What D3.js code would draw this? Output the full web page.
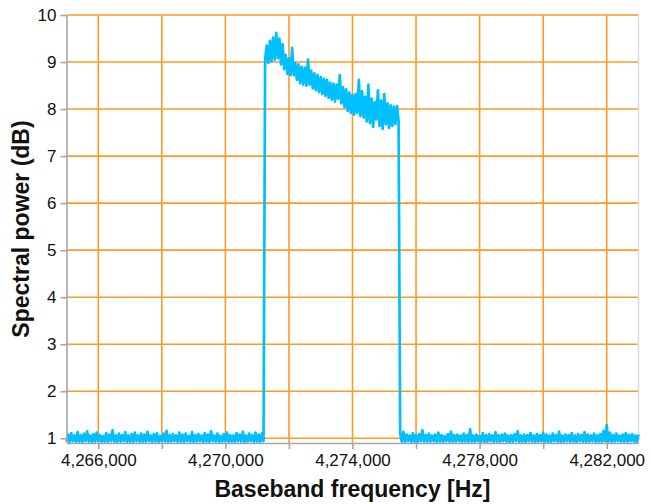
<!DOCTYPE html>
<html>
<head>
<meta charset="utf-8">
<script src="https://cdn.jsdelivr.net/npm/d3@7/dist/d3.min.js"></script>
<style>
  html, body { margin: 0; padding: 0; background: #fff; }
  svg { display: block; font-family: "Liberation Sans", Arial, Helvetica, sans-serif; }
</style>
</head>
<body>
<svg id="chart" width="650" height="504"></svg>
<script>
// Spectrum sampled every 50 Hz: noise floor below the band, the occupied band, noise floor above it
const sampleStepHz = 50;
const leftFloorStartHz = 4265000;
const leftFloor = [
  0.93,1.08,0.92,1.11,0.94,1.06,0.92,1.13,0.93,1.07,0.92,1.10,0.94,1.15,0.93,1.06,0.92,1.09,0.93,1.12,
  0.94,1.07,0.92,1.05,0.93,1.11,0.92,1.08,0.94,1.17,0.93,1.06,0.92,1.10,0.93,1.07,0.94,1.13,0.92,1.06,
  0.93,1.09,0.92,1.12,0.94,1.06,0.93,1.10,0.92,1.08,0.93,1.14,0.94,1.06,0.92,1.09,0.93,1.11,0.92,1.05,
  0.94,1.10,0.93,1.16,0.92,1.07,0.93,1.09,0.94,1.06,0.92,1.12,0.93,1.08,0.92,1.10,0.94,1.05,0.93,1.13,
  0.92,1.07,0.93,1.09,0.94,1.06,0.92,1.11,0.93,1.08,0.92,1.15,0.94,1.06,0.93,1.10,0.92,1.05,0.93,1.09,
  0.94,1.12,0.92,1.07,0.93,1.06,0.92,1.11,0.94,1.08,0.93,1.14,0.92,1.06,0.93,1.10,0.94,1.07,0.92,1.12,
  0.93,1.08,0.92,1.10,0.94
];
const bandStartHz = 4271250;
const bandPower = [
  9.05,9.35,8.98,9.45,9.02,9.52,9.05,9.62,9.08,9.50,8.95,9.38,8.85,9.15,8.75,9.08,8.72,9.30,8.72,8.98,
  8.62,8.95,8.55,8.90,8.52,8.88,8.50,9.05,8.52,8.82,8.44,8.76,8.40,8.72,8.36,8.68,8.32,8.64,8.28,8.62,
  8.24,8.56,8.20,8.54,8.16,8.52,8.22,8.72,8.12,8.46,8.04,8.42,7.96,8.35,7.92,8.30,7.88,8.32,7.92,8.62,
  7.85,8.38,7.82,8.26,7.74,8.52,7.70,8.22,7.62,8.15,7.78,8.40,7.64,8.18,7.58,8.32,7.68,8.12,7.60,8.08,
  7.64,8.05,7.68,8.06,7.76
];
const rightFloorStartHz = 4275500;
const rightFloor = [
  1.10,0.93,1.14,0.92,1.08,0.94,1.06,0.92,1.11,0.93,1.07,0.92,1.09,0.94,1.17,0.93,1.07,0.92,1.10,0.93,
  1.06,0.94,1.08,0.92,1.12,0.93,1.07,0.92,1.05,0.94,1.09,0.93,1.14,0.92,1.07,0.93,1.08,0.94,1.06,0.92,
  1.10,0.93,1.07,0.92,1.19,0.93,1.06,0.92,1.08,0.94,1.05,0.93,1.11,0.92,1.07,0.93,1.09,0.94,1.06,0.92,
  1.13,0.93,1.07,0.92,1.08,0.94,1.10,0.93,1.06,0.92,1.07,0.93,1.09,0.94,1.15,0.92,1.06,0.93,1.08,0.92,
  1.07,0.94,1.11,0.93,1.06,0.92,1.09,0.93,1.07,0.94,1.12,0.92,1.08,0.93,1.06,0.92,1.10,0.94,1.07,0.93,
  1.14,0.92,1.06,0.93,1.08,0.94,1.07,0.92,1.11,0.93,1.06,0.92,1.09,0.94,1.07,0.93,1.13,0.92,1.08,0.93,
  1.06,0.94,1.10,0.92,1.07,0.93,1.09,0.92,1.16,0.94,1.28,0.93,1.12,0.92,1.07,0.93,1.10,0.94,1.06,0.92,
  1.08,0.93,1.11,0.92,1.07,0.94,1.09,0.93,1.06,0.92,1.08
];

// Axis ticks
const xTicks = [4266000, 4268000, 4270000, 4272000, 4274000, 4276000, 4278000, 4280000, 4282000];
const xLabelled = [4266000, 4270000, 4274000, 4278000, 4282000];
const yTicks = [1, 2, 3, 4, 5, 6, 7, 8, 9, 10];
const xDomain = [4265000, 4283000];
const yDomain = [0.9, 10];

const xTitle = "Baseband frequency [Hz]";
const yTitle = "Spectral power (dB)";

// Build (frequency, power) points
function toPoints(startHz, values) {
  return values.map((v, i) => ({ f: startHz + i * sampleStepHz, p: v }));
}
const points = [].concat(
  toPoints(leftFloorStartHz, leftFloor),
  toPoints(bandStartHz, bandPower),
  toPoints(rightFloorStartHz, rightFloor)
);

const margin = { left: 66.5, right: 11.5, top: 15, bottom: 61 };
const W = 650, H = 504;
const svg = d3.select("#chart");

const x = d3.scaleLinear().domain(xDomain).range([margin.left, W - margin.right]);
const y = d3.scaleLinear().domain(yDomain).range([H - margin.bottom, margin.top]);

const gridColor = "#ff9a22";
const axisColor = "#a6a6a6";

// Grid
const grid = svg.append("g");
grid.selectAll("line.vx").data(xTicks).join("line")
  .attr("x1", d => x(d)).attr("x2", d => x(d))
  .attr("y1", y.range()[1]).attr("y2", y.range()[0])
  .attr("stroke", gridColor).attr("stroke-width", 1.6);
grid.selectAll("line.hy").data(yTicks).join("line")
  .attr("x1", x.range()[0]).attr("x2", x.range()[1])
  .attr("y1", d => y(d)).attr("y2", d => y(d))
  .attr("stroke", gridColor).attr("stroke-width", 1.6);

// Right frame edge
svg.append("line")
  .attr("x1", x.range()[1]).attr("x2", x.range()[1])
  .attr("y1", y.range()[1]).attr("y2", y.range()[0])
  .attr("stroke", "#dcdcdc").attr("stroke-width", 1.5);

// Spectrum trace
const line = d3.line().x(d => x(d.f)).y(d => y(d.p));
svg.append("path")
  .datum(points)
  .attr("d", line)
  .attr("fill", "none")
  .attr("stroke", "#00bfff")
  .attr("stroke-width", 2.7)
  .attr("stroke-linejoin", "round");

// Axes
const fmt = d3.format(",");
const xAxis = d3.axisBottom(x)
  .tickValues(xTicks)
  .tickSize(6)
  .tickSizeOuter(0)
  .tickPadding(5)
  .tickFormat(d => xLabelled.includes(d) ? fmt(d) : "");
const gx = svg.append("g")
  .attr("transform", `translate(0,${y.range()[0]})`)
  .call(xAxis);

const yAxis = d3.axisLeft(y)
  .tickValues(yTicks)
  .tickSize(6)
  .tickSizeOuter(0)
  .tickPadding(4)
  .tickFormat(d3.format("d"));
const gy = svg.append("g")
  .attr("transform", `translate(${x.range()[0]},0)`)
  .call(yAxis);

[gx, gy].forEach(g => {
  g.select(".domain").attr("stroke", axisColor).attr("stroke-width", 1.6);
  g.selectAll(".tick line").attr("stroke", axisColor).attr("stroke-width", 1.6);
  g.selectAll(".tick text")
    .attr("fill", "#111")
    .style("font-size", "17px")
    .style("font-family", '"Liberation Sans", Arial, Helvetica, sans-serif');
});

// Axis titles
svg.append("text")
  .attr("x", (x.range()[0] + x.range()[1]) / 2)
  .attr("y", 497)
  .attr("text-anchor", "middle")
  .style("font-size", "23px")
  .style("font-weight", "bold")
  .attr("fill", "#111")
  .text(xTitle);

svg.append("text")
  .attr("transform", `translate(29,${(y.range()[0] + y.range()[1]) / 2}) rotate(-90)`)
  .attr("text-anchor", "middle")
  .style("font-size", "23px")
  .style("font-weight", "bold")
  .attr("fill", "#111")
  .text(yTitle);
</script>
</body>
</html>
